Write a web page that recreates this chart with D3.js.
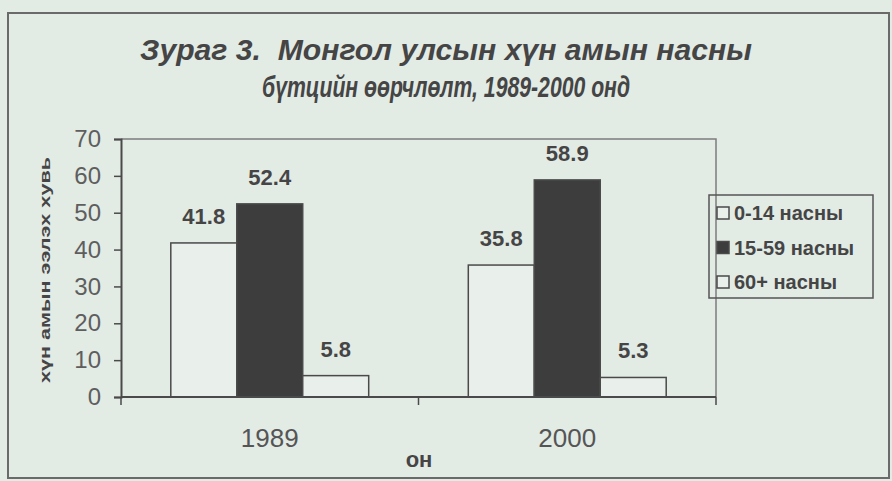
<!DOCTYPE html>
<html>
<head>
<meta charset="utf-8">
<script src="https://cdn.jsdelivr.net/npm/d3@7/dist/d3.min.js"></script>
<style>
  html, body { margin: 0; padding: 0; background: #e3ebe5; }
  svg { display: block; font-family: "Liberation Sans", Arial, sans-serif; }
</style>
</head>
<body>
<div id="container"></div>
<script>
// data
var years = ["1989", "2000"];
var groups = ["0-14 насны", "15-59 насны", "60+ насны"];
var age0_14 = [41.8, 35.8];
var age15_59 = [52.4, 58.9];
var age60 = [5.8, 5.3];
var yTicks = [0, 10, 20, 30, 40, 50, 60, 70];

var titleLines = ["Зураг 3.  Монгол улсын хүн амын насны", "бүтцийн өөрчлөлт, 1989-2000 онд"];
var yTitle = "хүн амын ээлэх хувь";
var xTitle = "он";

const width = 892;
const height = 481;
const plotL = 121, plotR = 716, plotT = 139, plotB = 397;
const ink = "#454545";

var series = [age0_14, age15_59, age60];
var fills = ["#e9efea", "#3d3d3d", "#e9efea"];

var rows = [];
years.forEach(function (yr, i) {
    groups.forEach(function (g, j) {
        rows.push({ year: yr, group: g, value: series[j][i], k: j });
    });
});

const svg = d3.select("#container")
    .append("svg")
    .attr("width", width)
    .attr("height", height);

// outer frame
svg.append("rect")
    .attr("x", 8).attr("y", 13)
    .attr("width", 881).attr("height", 465)
    .attr("fill", "none")
    .attr("stroke", "#6a6a6a")
    .attr("stroke-width", 2);

// title
titleLines.forEach(function (t, i) {
    svg.append("text")
        .attr("x", 446)
        .attr("y", 60 + i * 37)
        .attr("text-anchor", "middle")
        .attr("font-size", 30)
        .attr("font-weight", "bold")
        .attr("font-style", "italic")
        .attr("fill", ink)
        .attr("textLength", i == 0 ? 612 : 368)
        .attr("lengthAdjust", "spacingAndGlyphs")
        .style("white-space", "pre")
        .text(t);
});

// scales
var scaleX = d3.scaleBand().domain(years).range([plotL, plotR]).padding(0);
var scaleG = d3.scaleBand().domain(d3.range(groups.length))
    .range([0, scaleX.bandwidth()])
    .paddingInner(0).paddingOuter(0.755);
var scaleY = d3.scaleLinear().domain([0, 70]).range([plotB, plotT]);

// plot frame (top + right)
svg.append("path")
    .attr("d", "M" + plotL + "," + scaleY(70) + "H" + plotR + "V" + plotB)
    .attr("fill", "none")
    .attr("stroke", "#7d7d7d")
    .attr("stroke-width", 1.5);

// y axis
const yAxis = d3.axisLeft(scaleY).tickValues(yTicks).tickSize(7).tickPadding(13);
var gy = svg.append("g")
    .attr("transform", "translate(" + plotL + ",0)")
    .call(yAxis);
gy.select(".domain").attr("stroke", "#4a4a4a").attr("stroke-width", 2);
gy.selectAll(".tick line").attr("stroke", "#4a4a4a").attr("stroke-width", 1.5);
gy.selectAll(".tick text")
    .attr("font-size", 24)
    .attr("fill", "#5e5e5e")
    .attr("font-family", "Liberation Sans, Arial, sans-serif");

// y title
svg.append("text")
    .attr("transform", "translate(50,270) rotate(-90)")
    .attr("text-anchor", "middle")
    .attr("font-size", 15)
    .attr("font-weight", "bold")
    .attr("fill", ink)
    .attr("textLength", 226)
    .attr("lengthAdjust", "spacingAndGlyphs")
    .text(yTitle);

// bars
svg.selectAll("rect.bar")
    .data(rows)
    .enter()
    .append("rect")
    .attr("class", "bar")
    .attr("x", d => scaleX(d.year) + scaleG(d.k))
    .attr("y", d => scaleY(d.value))
    .attr("width", scaleG.bandwidth())
    .attr("height", d => scaleY(0) - scaleY(d.value))
    .attr("fill", d => fills[d.k])
    .attr("stroke", "#4a4a4a")
    .attr("stroke-width", 1.5);

// value labels
svg.selectAll("text.val")
    .data(rows)
    .enter()
    .append("text")
    .attr("class", "val")
    .attr("x", d => scaleX(d.year) + scaleG(d.k) + scaleG.bandwidth() / 2)
    .attr("y", d => scaleY(d.value) - 19)
    .attr("text-anchor", "middle")
    .attr("font-size", 22)
    .attr("font-weight", "bold")
    .attr("fill", ink)
    .text(d => d.value.toFixed(1));

// x axis line + boundary ticks
svg.append("line")
    .attr("x1", plotL).attr("x2", plotR)
    .attr("y1", plotB).attr("y2", plotB)
    .attr("stroke", "#4a4a4a").attr("stroke-width", 2);

var bounds = years.map(d => scaleX(d)).concat([scaleX(years[years.length - 1]) + scaleX.bandwidth()]);
svg.selectAll("line.xtick")
    .data(bounds)
    .enter()
    .append("line")
    .attr("class", "xtick")
    .attr("x1", d => d).attr("x2", d => d)
    .attr("y1", plotB).attr("y2", plotB + 8)
    .attr("stroke", "#4a4a4a").attr("stroke-width", 1.5);

svg.selectAll("text.xlab")
    .data(years)
    .enter()
    .append("text")
    .attr("class", "xlab")
    .attr("x", d => scaleX(d) + scaleX.bandwidth() / 2)
    .attr("y", 447)
    .attr("text-anchor", "middle")
    .attr("font-size", 26)
    .attr("fill", "#555")
    .text(d => d);

svg.append("text")
    .attr("x", 419)
    .attr("y", 467)
    .attr("text-anchor", "middle")
    .attr("font-size", 22)
    .attr("font-weight", "bold")
    .attr("fill", ink)
    .text(xTitle);

// legend
var legend = svg.append("g").attr("id", "legend");
legend.append("rect")
    .attr("x", 709).attr("y", 195)
    .attr("width", 164).attr("height", 103)
    .attr("fill", "none")
    .attr("stroke", "#555")
    .attr("stroke-width", 1.5);

var li = legend.selectAll("g.item")
    .data(groups)
    .enter()
    .append("g")
    .attr("class", "item")
    .attr("transform", (d, i) => "translate(717," + (213 + i * 34.5) + ")");

li.append("rect")
    .attr("x", 0).attr("y", -6)
    .attr("width", 12).attr("height", 12)
    .attr("fill", (d, i) => fills[i])
    .attr("stroke", "#4a4a4a")
    .attr("stroke-width", 1.5);

li.append("text")
    .attr("x", 17)
    .attr("y", 7)
    .attr("font-size", 20)
    .attr("font-weight", "bold")
    .attr("fill", ink)
    .text(d => d);
</script>
</body>
</html>
